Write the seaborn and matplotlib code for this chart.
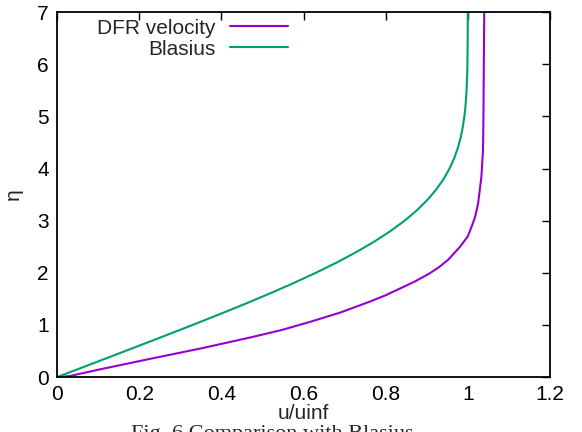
import numpy as np
import pandas as pd
import seaborn as sns
import matplotlib.pyplot as plt

# Blasius profile (eta, u/uinf)
blasius_eta = [0, 0.2, 0.4, 0.6, 0.8, 1.0, 1.2, 1.4, 1.6, 1.8, 2.0, 2.2, 2.4, 2.6,
               2.8, 3.0, 3.2, 3.4, 3.6, 3.8, 4.0, 4.2, 4.4, 4.6, 4.8, 5.0, 5.2,
               5.4, 5.6, 5.8, 6.0, 6.4, 7.0]
blasius_u = [0, 0.0664, 0.1328, 0.1989, 0.2647, 0.3298, 0.3938, 0.4563, 0.5168,
             0.5748, 0.6298, 0.6813, 0.7290, 0.7725, 0.8115, 0.8461, 0.8761,
             0.9018, 0.9233, 0.9411, 0.9555, 0.9670, 0.9759, 0.9827, 0.9878,
             0.9916, 0.9943, 0.9962, 0.9975, 0.9984, 0.9990, 0.9996, 0.9999]

# DFR velocity profile
dfr_eta = [0, 0.02, 0.15, 0.35, 0.55, 0.76, 0.90, 1.06, 1.24, 1.45, 1.57, 1.70,
           1.83, 1.98, 2.11, 2.25, 2.50, 2.70, 2.88, 3.08, 3.33, 3.84, 4.36,
           5.0, 6.08, 7.0]
dfr_u = [0, 0.03, 0.105, 0.226, 0.35, 0.47, 0.545, 0.616, 0.69, 0.762, 0.80,
         0.835, 0.87, 0.905, 0.93, 0.952, 0.981, 1.000, 1.009, 1.018, 1.025,
         1.033, 1.037, 1.038, 1.039, 1.040]

df = pd.concat([
    pd.DataFrame({"u": dfr_u, "eta": dfr_eta, "series": "DFR velocity"}),
    pd.DataFrame({"u": blasius_u, "eta": blasius_eta, "series": "Blasius"}),
])

sns.set_theme(style="white")
plt.rcParams['font.family'] = ['Liberation Sans', 'DejaVu Sans']
plt.rcParams['axes.edgecolor'] = 'black'

fig = plt.figure(figsize=(5.82, 4.32), dpi=100)
ax = fig.add_axes([0.098, 0.127, 0.847, 0.845])

sns.lineplot(data=df, x="u", y="eta", hue="series", sort=False, estimator=None,
             palette={"DFR velocity": "#9400D3", "Blasius": "#009E73"},
             linewidth=1.5, ax=ax)

ax.set_xlim(0, 1.2)
ax.set_ylim(0, 7)
ax.set_xticks([0, 0.2, 0.4, 0.6, 0.8, 1.0, 1.2])
ax.set_xticklabels(["0", "0.2", "0.4", "0.6", "0.8", "1", "1.2"])
ax.set_yticks(range(8))
ax.tick_params(direction="in", length=6, width=1, colors="black", labelsize=15,
               top=True, right=True, pad=6)
for s in ax.spines.values():
    s.set_linewidth(1.3)
    s.set_color("black")

ax.set_xlabel("u/uinf", fontsize=15, labelpad=0)
ax.set_ylabel("η", fontsize=15, labelpad=10)

leg = ax.legend(loc="upper right", frameon=False, markerfirst=False, fontsize=15,
                handlelength=2.8, handletextpad=0.7, labelspacing=0.1,
                borderaxespad=0, borderpad=0, bbox_to_anchor=(0.469, 0.982))
for t in leg.get_texts():
    t.set_ha("right")
leg._legend_box.align = "right"

fig.text(0.468, -0.0153, "Fig. 6 Comparison with Blasius", ha="center", va="baseline",
         fontsize=16, family=["Liberation Serif", "DejaVu Serif"])

fig.savefig("out.png", dpi=100)
